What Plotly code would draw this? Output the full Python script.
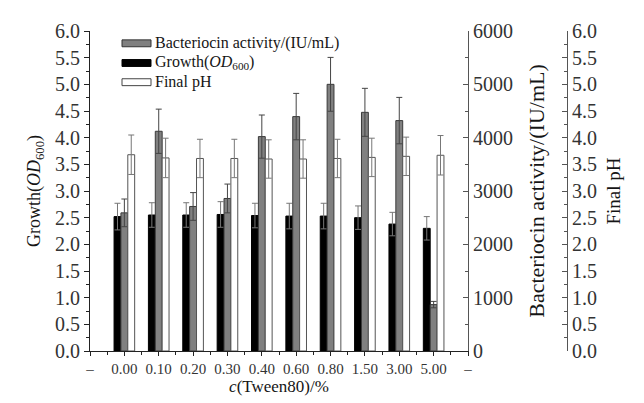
import plotly.graph_objects as go

# ---- data ----
concentrations = ["0.00", "0.10", "0.20", "0.30", "0.40", "0.60", "0.80", "1.50", "3.00", "5.00"]
edge_label = "–"
growth = [2.52, 2.55, 2.55, 2.56, 2.54, 2.53, 2.53, 2.50, 2.38, 2.30]
growth_err = [0.25, 0.23, 0.23, 0.24, 0.23, 0.24, 0.24, 0.22, 0.22, 0.22]
bacteriocin = [2590, 4120, 2710, 2860, 4020, 4395, 5000, 4475, 4320, 870]
bacteriocin_err = [260, 415, 260, 270, 405, 435, 505, 450, 435, 60]
final_ph = [3.68, 3.62, 3.61, 3.61, 3.60, 3.60, 3.61, 3.63, 3.65, 3.67]
final_ph_err = [0.37, 0.37, 0.36, 0.36, 0.36, 0.36, 0.36, 0.36, 0.36, 0.37]
series_names = ["Bacteriocin activity/(IU/mL)", "Growth(<i>OD</i><sub>600</sub>)", "Final pH"]

FONT = "Liberation Serif"
TXT = "#151515"
pos = list(range(len(concentrations)))

W, H = 644, 403
ML, MR, MT, MB = 82, 20, 18, 60
plot_right_px = 460
paper_w = W - ML - MR
x_dom_end = (plot_right_px - ML) / paper_w
ph_axis_pos = (559 - ML) / paper_w

fig = go.Figure()

err_style = dict(type="data", thickness=1, width=3)

fig.add_trace(go.Bar(
    x=pos, y=growth, name=series_names[1], yaxis="y",
    offset=-0.3, width=0.2,
    marker=dict(color="#000000", line=dict(color="#000000", width=1)),
    error_y=dict(array=growth_err, color="#777777", **err_style),
    showlegend=False,
))
fig.add_trace(go.Bar(
    x=pos, y=bacteriocin, name=series_names[0], yaxis="y2",
    offset=-0.1, width=0.2,
    marker=dict(color="#808080", line=dict(color="#3a3a3a", width=1)),
    error_y=dict(array=bacteriocin_err, color="#444444", **err_style),
    showlegend=False,
))
fig.add_trace(go.Bar(
    x=pos, y=final_ph, name=series_names[2], yaxis="y3",
    offset=0.1, width=0.2,
    marker=dict(color="#ffffff", line=dict(color="#555555", width=1)),
    error_y=dict(array=final_ph_err, color="#777777", **err_style),
    showlegend=False,
))

tickvals = [-1] + pos + [len(pos)]
ticktext = [edge_label] + concentrations + [edge_label]

fig.update_layout(
    width=W, height=H,
    margin=dict(l=ML, r=MR, t=MT, b=MB),
    paper_bgcolor="white", plot_bgcolor="white",
    font=dict(family=FONT, color=TXT),
    barmode="overlay",
    xaxis=dict(
        domain=[0, x_dom_end], range=[-1, len(pos)],
        tickmode="array", tickvals=tickvals, ticktext=ticktext,
        ticks="outside", ticklen=4, tickcolor="#222222",
        minor=dict(tickmode="linear", tick0=-0.5, dtick=1, ticks="outside", ticklen=3, tickcolor="#222222"),
        showline=True, linecolor="#222222", linewidth=1,
        showgrid=False, zeroline=False,
        tickfont=dict(family=FONT, size=15, color="#333333"),
        title=dict(text="<i>c</i>(Tween80)/%", font=dict(family=FONT, size=17, color=TXT), standoff=4),
    ),
    yaxis=dict(
        range=[0, 6], dtick=0.5, tickformat=".1f",
        ticks="outside", ticklen=5, tickcolor="#222222",
        minor=dict(dtick=0.25, ticks="outside", ticklen=3, tickcolor="#222222"),
        showline=True, linecolor="#222222", linewidth=1,
        showgrid=False, zeroline=False,
        tickfont=dict(family=FONT, size=20, color="#333333"),
        title=dict(text="Growth(<i>OD</i><sub>600</sub>)", font=dict(family=FONT, size=18, color=TXT), standoff=9),
    ),
    yaxis2=dict(
        overlaying="y", side="right", anchor="x",
        range=[0, 6000], dtick=1000,
        ticks="inside", ticklen=5, tickcolor="#555555",
        minor=dict(dtick=500, ticks="inside", ticklen=3, tickcolor="#555555"),
        showline=True, linecolor="#555555", linewidth=1,
        showgrid=False, zeroline=False,
        tickfont=dict(family=FONT, size=20, color="#333333"),
        title=dict(text="Bacteriocin activity/(IU/mL)", font=dict(family=FONT, size=22, color=TXT), standoff=16),
    ),
    yaxis3=dict(
        overlaying="y", side="right", anchor="free", position=ph_axis_pos,
        range=[0, 6], dtick=0.5, tickformat=".1f",
        ticks="inside", ticklen=5, tickcolor="#555555",
        minor=dict(dtick=0.25, ticks="inside", ticklen=3, tickcolor="#555555"),
        showline=True, linecolor="#555555", linewidth=1,
        showgrid=False, zeroline=False,
        tickfont=dict(family=FONT, size=20, color="#333333"),
        title=dict(text="Final pH", font=dict(family=FONT, size=19, color=TXT), standoff=10),
    ),
)

# ---- manual legend (wide rectangle swatches as in the reference) ----
plot_h = H - MT - MB
def xd(px):
    return (px - ML) / (plot_right_px - ML)
def yd(py):
    return (H - MB - py) / plot_h

legend_rows = [
    (series_names[0], "#808080", "#333333", 30.5),
    (series_names[1], "#000000", "#000000", 50.5),
    (series_names[2], "#ffffff", "#444444", 70.0),
]
for label, fill, edge, cy in legend_rows:
    fig.add_shape(type="rect", xref="x domain", yref="y domain",
                  x0=xd(114), x1=xd(143), y0=yd(cy + 3.5), y1=yd(cy - 3.5),
                  fillcolor=fill, line=dict(color=edge, width=1))
    fig.add_annotation(xref="x domain", yref="y domain", x=xd(145), y=yd(cy),
                       text=label, showarrow=False, xanchor="left", yanchor="middle",
                       font=dict(family=FONT, size=16, color=TXT))

fig.write_html("out.html")
